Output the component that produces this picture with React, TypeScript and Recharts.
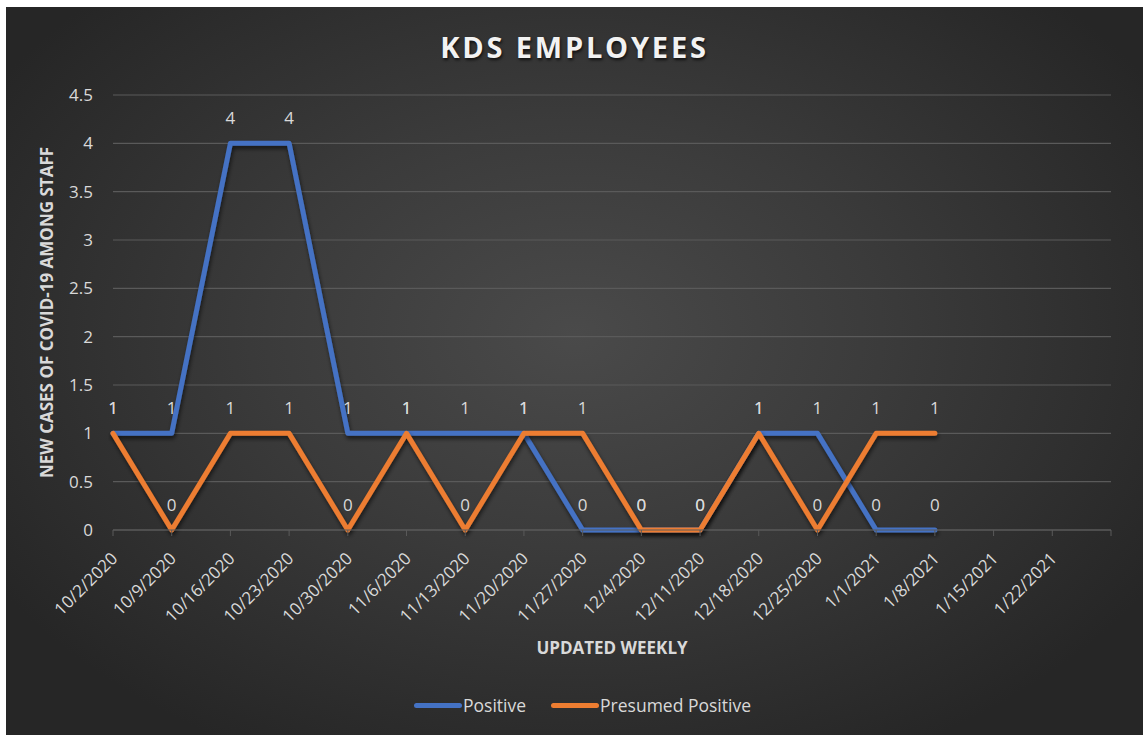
import React from 'react';
import { LineChart, Line, XAxis, YAxis, CartesianGrid, Legend, LabelList } from 'recharts';

const weeks = [
  '10/2/2020', '10/9/2020', '10/16/2020', '10/23/2020', '10/30/2020', '11/6/2020',
  '11/13/2020', '11/20/2020', '11/27/2020', '12/4/2020', '12/11/2020', '12/18/2020',
  '12/25/2020', '1/1/2021', '1/8/2021', '1/15/2021', '1/22/2021', '',
];
const positive = [1, 1, 4, 4, 1, 1, 1, 1, 0, 0, 0, 1, 1, 0, 0, null, null, null];
const presumedPositive = [1, 0, 1, 1, 0, 1, 0, 1, 1, 0, 0, 1, 0, 1, 1, null, null, null];
const yTicks = [0, 0.5, 1, 1.5, 2, 2.5, 3, 3.5, 4, 4.5];

const data = weeks.map((week, i) => ({
  week,
  positive: positive[i],
  presumed: presumedPositive[i],
}));

const FONT = '"Open Sans", "Noto Sans", sans-serif';
const TEXT = '#d9d9d9';
const GRID = '#5a5a5a';

const XTick = ({ x, y, payload }: any) => {
  if (!payload.value) return null;
  return (
    <g transform={`translate(${x - 3},${y + 13})`}>
      <text
        x={0}
        y={0}
        dy="0.71em"
        textAnchor="end"
        transform="rotate(-45)"
        fill={TEXT}
        fontSize={17}
        fontFamily={FONT}
      >
        {payload.value}
      </text>
    </g>
  );
};

const ValueLabel = ({ x, y, value }: any) => {
  if (value === null || value === undefined) return null;
  return (
    <text x={x} y={y - 19} textAnchor="middle" fill={TEXT} fontSize={17} fontFamily={FONT}>
      {value}
    </text>
  );
};

const LegendContent = () => (
  <div
    style={{
      height: 40,
      display: 'flex',
      justifyContent: 'center',
      alignItems: 'center',
      fontFamily: FONT,
      fontSize: 17.5,
      color: TEXT,
      paddingLeft: 48,
    }}
  >
    <span style={{ display: 'inline-block', width: 48, height: 5, borderRadius: 3, background: '#4472C4' }} />
    <span style={{ marginLeft: 1, marginRight: 25 }}>Positive</span>
    <span style={{ display: 'inline-block', width: 48, height: 5, borderRadius: 3, background: '#ED7D31' }} />
    <span style={{ marginLeft: 1 }}>Presumed Positive</span>
  </div>
);

export default function App() {
  return (
    <div
      style={{
        position: 'absolute',
        left: 6,
        top: 7,
        width: 1137,
        height: 728,
        background: 'radial-gradient(ellipse 60% 65% at 50% 45%, #4a4a4a 0%, #3b3b3b 45%, #262626 100%)',
      }}
    >
      <div
        style={{
          position: 'absolute',
          top: 20,
          left: 0,
          width: '100%',
          textAlign: 'center',
          fontFamily: FONT,
          fontWeight: 700,
          fontSize: 29,
          letterSpacing: 2.8,
          color: '#f2f2f2',
          textShadow: '1px 2px 3px rgba(0,0,0,0.7)',
        }}
      >
        KDS EMPLOYEES
      </div>
      <LineChart width={1137} height={728} data={data} margin={{ top: 88, right: 32, left: 0, bottom: 0 }}>
        <defs>
          <filter id="lineShadow" x="-10%" y="-10%" width="120%" height="130%">
            <feDropShadow dx="1" dy="3" stdDeviation="2" floodColor="#000" floodOpacity="0.6" />
          </filter>
        </defs>
        <CartesianGrid vertical={false} stroke={GRID} strokeWidth={1.2} />
        <XAxis
          dataKey="week"
          interval={0}
          height={165}
          stroke={GRID}
          tickLine={{ stroke: GRID }}
          tickSize={6}
          tick={<XTick />}
          label={({ viewBox }: any) => (
            <text
              x={viewBox.x + viewBox.width / 2}
              y={viewBox.y + 124}
              textAnchor="middle"
              fill={TEXT}
              fontSize={17}
              fontWeight={700}
              fontFamily={FONT}
            >
              UPDATED WEEKLY
            </text>
          )}
        />
        <YAxis
          width={107}
          domain={[0, 4.5]}
          ticks={yTicks}
          axisLine={false}
          tickLine={false}
          tickMargin={14}
          tick={{ fill: TEXT, fontSize: 17, fontFamily: FONT }}
          label={({ viewBox }: any) => (
            <text
              x={0}
              y={0}
              transform={`translate(47,${viewBox.y + viewBox.height / 2}) rotate(-90)`}
              textAnchor="middle"
              fill={TEXT}
              fontSize={17}
              fontWeight={700}
              fontFamily={FONT}
            >
              NEW CASES OF COVID-19 AMONG STAFF
            </text>
          )}
        />
        <Legend verticalAlign="bottom" wrapperStyle={{ bottom: 10 }} content={<LegendContent />} />
        <Line
          dataKey="positive"
          name="Positive"
          stroke="#4472C4"
          strokeWidth={5}
          strokeLinejoin="round"
          strokeLinecap="round"
          dot={false}
          activeDot={false}
          filter="url(#lineShadow)"
          isAnimationActive={false}
        >
          <LabelList dataKey="positive" content={<ValueLabel />} />
        </Line>
        <Line
          dataKey="presumed"
          name="Presumed Positive"
          stroke="#ED7D31"
          strokeWidth={5}
          strokeLinejoin="round"
          strokeLinecap="round"
          dot={false}
          activeDot={false}
          filter="url(#lineShadow)"
          isAnimationActive={false}
        >
          <LabelList dataKey="presumed" content={<ValueLabel />} />
        </Line>
      </LineChart>
    </div>
  );
}
